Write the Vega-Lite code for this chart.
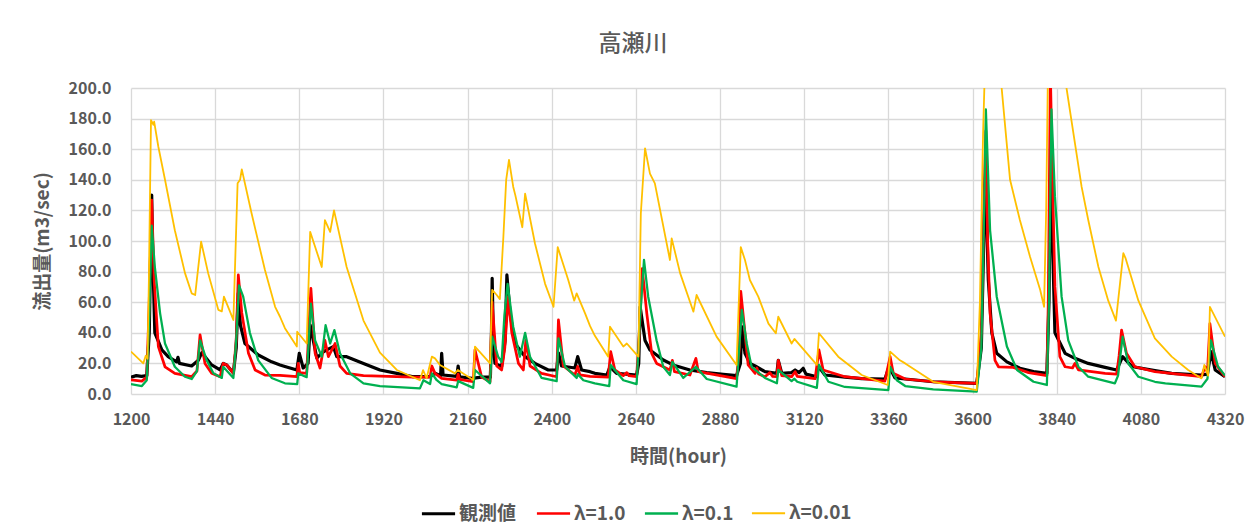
{
"$schema": "https://vega.github.io/schema/vega-lite/v6.json",
"width": 1094, "height": 306,
"autosize": {"type": "none"},
"padding": {"left": 131, "top": 88, "right": 28, "bottom": 137},
"background": "white",
"title": {"text": "高瀬川", "fontSize": 23, "font": "Noto Sans CJK JP", "fontWeight": 500, "color": "#595959", "anchor": "middle", "dx": -45, "offset": 24},
"config": {"view": {"stroke": null}, "font": "Noto Sans CJK JP"},
"data": {"values": [
{"s":"観測値","h":1200,"v":11},{"s":"観測値","h":1215,"v":12},{"s":"観測値","h":1230,"v":11.5},{"s":"観測値","h":1245,"v":12},{"s":"観測値","h":1252,"v":40},{"s":"観測値","h":1259,"v":130},{"s":"観測値","h":1262,"v":90},{"s":"観測値","h":1268,"v":40},{"s":"観測値","h":1288,"v":28.8},{"s":"観測値","h":1306,"v":24.4},{"s":"観測値","h":1330,"v":21},{"s":"観測値","h":1334,"v":24},{"s":"観測値","h":1338,"v":20},{"s":"観測値","h":1373,"v":18.3},{"s":"観測値","h":1392,"v":22},{"s":"観測値","h":1402,"v":27},{"s":"観測値","h":1430,"v":19},{"s":"観測値","h":1454,"v":15.7},{"s":"観測値","h":1463,"v":20},{"s":"観測値","h":1473,"v":19},{"s":"観測値","h":1492,"v":13.7},{"s":"観測値","h":1500,"v":30},{"s":"観測値","h":1506,"v":66},{"s":"観測値","h":1512,"v":45},{"s":"観測値","h":1525,"v":33},{"s":"観測値","h":1563,"v":25.5},{"s":"観測値","h":1601,"v":21},{"s":"観測値","h":1625,"v":19},{"s":"観測値","h":1639,"v":18},{"s":"観測値","h":1673,"v":15.7},{"s":"観測値","h":1680,"v":26.6},{"s":"観測値","h":1691,"v":17},{"s":"観測値","h":1705,"v":20},{"s":"観測値","h":1711,"v":45},{"s":"観測値","h":1730,"v":23.5},{"s":"観測値","h":1744,"v":26.8},{"s":"観測値","h":1758,"v":28.8},{"s":"観測値","h":1777,"v":31},{"s":"観測値","h":1787,"v":24.4},{"s":"観測値","h":1815,"v":24.4},{"s":"観測値","h":1863,"v":20},{"s":"観測値","h":1910,"v":15.7},{"s":"観測値","h":1958,"v":13.5},{"s":"観測値","h":2005,"v":11.3},{"s":"観測値","h":2053,"v":11.3},{"s":"観測値","h":2067,"v":13.5},{"s":"観測値","h":2083,"v":12},{"s":"観測値","h":2086,"v":26.6},{"s":"観測値","h":2090,"v":12.4},{"s":"観測値","h":2129,"v":11.5},{"s":"観測値","h":2133,"v":18.3},{"s":"観測値","h":2137,"v":11.3},{"s":"観測値","h":2172,"v":10.2},{"s":"観測値","h":2200,"v":11},{"s":"観測値","h":2225,"v":11},{"s":"観測値","h":2228,"v":40},{"s":"観測値","h":2230,"v":75.6},{"s":"観測値","h":2234,"v":30},{"s":"観測値","h":2238,"v":20},{"s":"観測値","h":2257,"v":18},{"s":"観測値","h":2267,"v":35},{"s":"観測値","h":2272,"v":77.8},{"s":"観測値","h":2281,"v":53},{"s":"観測値","h":2295,"v":33},{"s":"観測値","h":2324,"v":24.4},{"s":"観測値","h":2352,"v":20},{"s":"観測値","h":2390,"v":15.7},{"s":"観測値","h":2414,"v":15.7},{"s":"観測値","h":2419,"v":26.8},{"s":"観測値","h":2428,"v":18.3},{"s":"観測値","h":2466,"v":17},{"s":"観測値","h":2474,"v":24.4},{"s":"観測値","h":2485,"v":15.7},{"s":"観測値","h":2509,"v":14.6},{"s":"観測値","h":2523,"v":13.5},{"s":"観測値","h":2557,"v":12.4},{"s":"観測値","h":2566,"v":17.8},{"s":"観測値","h":2585,"v":13.5},{"s":"観測値","h":2642,"v":12.4},{"s":"観測値","h":2648,"v":20},{"s":"観測値","h":2652,"v":57},{"s":"観測値","h":2666,"v":35},{"s":"観測値","h":2680,"v":28.8},{"s":"観測値","h":2718,"v":22.2},{"s":"観測値","h":2746,"v":19},{"s":"観測値","h":2794,"v":15.7},{"s":"観測値","h":2842,"v":14},{"s":"観測値","h":2889,"v":12.8},{"s":"観測値","h":2927,"v":12},{"s":"観測値","h":2938,"v":20},{"s":"観測値","h":2942,"v":44},{"s":"観測値","h":2951,"v":26.6},{"s":"観測値","h":2965,"v":20},{"s":"観測値","h":2980,"v":18.3},{"s":"観測値","h":3008,"v":14.6},{"s":"観測値","h":3042,"v":13.5},{"s":"観測値","h":3046,"v":22},{"s":"観測値","h":3056,"v":13.5},{"s":"観測値","h":3084,"v":14},{"s":"観測値","h":3094,"v":15.7},{"s":"観測値","h":3105,"v":14},{"s":"観測値","h":3117,"v":16.8},{"s":"観測値","h":3125,"v":13},{"s":"観測値","h":3156,"v":11.3},{"s":"観測値","h":3160,"v":18.3},{"s":"観測値","h":3179,"v":12.4},{"s":"観測値","h":3236,"v":11},{"s":"観測値","h":3284,"v":10},{"s":"観測値","h":3350,"v":9.8},{"s":"観測値","h":3362,"v":17.8},{"s":"観測値","h":3379,"v":10.5},{"s":"観測値","h":3408,"v":9.8},{"s":"観測値","h":3488,"v":8},{"s":"観測値","h":3612,"v":7},{"s":"観測値","h":3625,"v":30},{"s":"観測値","h":3633,"v":110},{"s":"観測値","h":3638,"v":150},{"s":"観測値","h":3642,"v":100},{"s":"観測値","h":3645,"v":74.5},{"s":"観測値","h":3655,"v":40},{"s":"観測値","h":3669,"v":26.6},{"s":"観測値","h":3698,"v":21},{"s":"観測値","h":3735,"v":16.8},{"s":"観測値","h":3774,"v":14.6},{"s":"観測値","h":3812,"v":13.5},{"s":"観測値","h":3818,"v":60},{"s":"観測値","h":3824,"v":175},{"s":"観測値","h":3828,"v":100},{"s":"観測値","h":3835,"v":40},{"s":"観測値","h":3864,"v":26.6},{"s":"観測値","h":3892,"v":23.3},{"s":"観測値","h":3930,"v":20},{"s":"観測値","h":3978,"v":17.4},{"s":"観測値","h":4011,"v":15.7},{"s":"観測値","h":4028,"v":24.4},{"s":"観測値","h":4054,"v":18},{"s":"観測値","h":4120,"v":15.3},{"s":"観測値","h":4168,"v":13.5},{"s":"観測値","h":4253,"v":12.4},{"s":"観測値","h":4270,"v":13},{"s":"観測値","h":4280,"v":27.7},{"s":"観測値","h":4292,"v":15.7},{"s":"観測値","h":4320,"v":11.3},
{"s":"λ=1.0","h":1200,"v":9.2},{"s":"λ=1.0","h":1231,"v":8.4},{"s":"λ=1.0","h":1245,"v":11},{"s":"λ=1.0","h":1252,"v":60},{"s":"λ=1.0","h":1259,"v":126.8},{"s":"λ=1.0","h":1266,"v":74.5},{"s":"λ=1.0","h":1278,"v":31},{"s":"λ=1.0","h":1297,"v":17.8},{"s":"λ=1.0","h":1325,"v":13.5},{"s":"λ=1.0","h":1373,"v":11.3},{"s":"λ=1.0","h":1388,"v":15},{"s":"λ=1.0","h":1397,"v":38.6},{"s":"λ=1.0","h":1411,"v":20},{"s":"λ=1.0","h":1430,"v":13.5},{"s":"λ=1.0","h":1454,"v":11.3},{"s":"λ=1.0","h":1463,"v":20},{"s":"λ=1.0","h":1473,"v":19},{"s":"λ=1.0","h":1492,"v":13.5},{"s":"λ=1.0","h":1500,"v":35},{"s":"λ=1.0","h":1506,"v":77.8},{"s":"λ=1.0","h":1516,"v":53},{"s":"λ=1.0","h":1535,"v":26.6},{"s":"λ=1.0","h":1554,"v":15.7},{"s":"λ=1.0","h":1582,"v":12.4},{"s":"λ=1.0","h":1625,"v":12.2},{"s":"λ=1.0","h":1673,"v":11.3},{"s":"λ=1.0","h":1677,"v":20},{"s":"λ=1.0","h":1681,"v":14},{"s":"λ=1.0","h":1701,"v":13.5},{"s":"λ=1.0","h":1713,"v":69},{"s":"λ=1.0","h":1725,"v":26.8},{"s":"λ=1.0","h":1739,"v":17},{"s":"λ=1.0","h":1753,"v":35},{"s":"λ=1.0","h":1763,"v":24.4},{"s":"λ=1.0","h":1782,"v":33},{"s":"λ=1.0","h":1796,"v":18.3},{"s":"λ=1.0","h":1815,"v":13.5},{"s":"λ=1.0","h":1863,"v":12},{"s":"λ=1.0","h":2005,"v":11},{"s":"λ=1.0","h":2053,"v":11},{"s":"λ=1.0","h":2058,"v":18.3},{"s":"λ=1.0","h":2067,"v":13.5},{"s":"λ=1.0","h":2086,"v":10.2},{"s":"λ=1.0","h":2129,"v":9},{"s":"λ=1.0","h":2133,"v":13},{"s":"λ=1.0","h":2137,"v":9.5},{"s":"λ=1.0","h":2176,"v":8},{"s":"λ=1.0","h":2181,"v":28.8},{"s":"λ=1.0","h":2200,"v":11},{"s":"λ=1.0","h":2224,"v":8},{"s":"λ=1.0","h":2230,"v":60},{"s":"λ=1.0","h":2243,"v":18.3},{"s":"λ=1.0","h":2257,"v":15.7},{"s":"λ=1.0","h":2266,"v":30},{"s":"λ=1.0","h":2276,"v":63.6},{"s":"λ=1.0","h":2286,"v":40},{"s":"λ=1.0","h":2305,"v":20},{"s":"λ=1.0","h":2319,"v":15.7},{"s":"λ=1.0","h":2326,"v":35},{"s":"λ=1.0","h":2338,"v":18.3},{"s":"λ=1.0","h":2371,"v":13.5},{"s":"λ=1.0","h":2414,"v":11.3},{"s":"λ=1.0","h":2419,"v":48.4},{"s":"λ=1.0","h":2433,"v":18.3},{"s":"λ=1.0","h":2466,"v":12.4},{"s":"λ=1.0","h":2474,"v":18},{"s":"λ=1.0","h":2480,"v":12.5},{"s":"λ=1.0","h":2509,"v":11.5},{"s":"λ=1.0","h":2561,"v":11},{"s":"λ=1.0","h":2568,"v":27.7},{"s":"λ=1.0","h":2580,"v":15.7},{"s":"λ=1.0","h":2604,"v":12},{"s":"λ=1.0","h":2614,"v":14},{"s":"λ=1.0","h":2620,"v":12},{"s":"λ=1.0","h":2642,"v":11.3},{"s":"λ=1.0","h":2650,"v":40},{"s":"λ=1.0","h":2658,"v":82},{"s":"λ=1.0","h":2671,"v":52.7},{"s":"λ=1.0","h":2685,"v":26.6},{"s":"λ=1.0","h":2699,"v":20},{"s":"λ=1.0","h":2737,"v":15.7},{"s":"λ=1.0","h":2744,"v":22},{"s":"λ=1.0","h":2750,"v":14.6},{"s":"λ=1.0","h":2794,"v":12.4},{"s":"λ=1.0","h":2811,"v":23.3},{"s":"λ=1.0","h":2818,"v":14.6},{"s":"λ=1.0","h":2927,"v":10},{"s":"λ=1.0","h":2935,"v":30},{"s":"λ=1.0","h":2939,"v":67},{"s":"λ=1.0","h":2951,"v":40},{"s":"λ=1.0","h":2960,"v":19},{"s":"λ=1.0","h":2980,"v":13.5},{"s":"λ=1.0","h":2985,"v":17},{"s":"λ=1.0","h":2990,"v":13},{"s":"λ=1.0","h":3008,"v":11.3},{"s":"λ=1.0","h":3022,"v":14},{"s":"λ=1.0","h":3030,"v":11.5},{"s":"λ=1.0","h":3042,"v":11.3},{"s":"λ=1.0","h":3046,"v":22},{"s":"λ=1.0","h":3056,"v":12},{"s":"λ=1.0","h":3084,"v":11.3},{"s":"λ=1.0","h":3094,"v":14.6},{"s":"λ=1.0","h":3100,"v":11.5},{"s":"λ=1.0","h":3151,"v":10},{"s":"λ=1.0","h":3162,"v":28.8},{"s":"λ=1.0","h":3174,"v":15.7},{"s":"λ=1.0","h":3236,"v":11.3},{"s":"λ=1.0","h":3350,"v":8.4},{"s":"λ=1.0","h":3365,"v":24.4},{"s":"λ=1.0","h":3374,"v":13.5},{"s":"λ=1.0","h":3408,"v":9.8},{"s":"λ=1.0","h":3488,"v":8},{"s":"λ=1.0","h":3612,"v":7},{"s":"λ=1.0","h":3625,"v":40},{"s":"λ=1.0","h":3633,"v":130},{"s":"λ=1.0","h":3638,"v":172},{"s":"λ=1.0","h":3643,"v":100},{"s":"λ=1.0","h":3650,"v":52.7},{"s":"λ=1.0","h":3664,"v":22},{"s":"λ=1.0","h":3674,"v":17.8},{"s":"λ=1.0","h":3716,"v":17.4},{"s":"λ=1.0","h":3760,"v":14},{"s":"λ=1.0","h":3812,"v":12},{"s":"λ=1.0","h":3816,"v":60},{"s":"λ=1.0","h":3822,"v":210},{"s":"λ=1.0","h":3827,"v":150},{"s":"λ=1.0","h":3835,"v":70},{"s":"λ=1.0","h":3849,"v":24.4},{"s":"λ=1.0","h":3864,"v":17.8},{"s":"λ=1.0","h":3885,"v":17},{"s":"λ=1.0","h":3892,"v":20},{"s":"λ=1.0","h":3902,"v":15.7},{"s":"λ=1.0","h":3978,"v":13.5},{"s":"λ=1.0","h":4011,"v":13},{"s":"λ=1.0","h":4018,"v":25},{"s":"λ=1.0","h":4025,"v":41.8},{"s":"λ=1.0","h":4039,"v":26.6},{"s":"λ=1.0","h":4063,"v":17.8},{"s":"λ=1.0","h":4120,"v":14.6},{"s":"λ=1.0","h":4253,"v":11.3},{"s":"λ=1.0","h":4263,"v":17.8},{"s":"λ=1.0","h":4270,"v":14},{"s":"λ=1.0","h":4277,"v":46},{"s":"λ=1.0","h":4292,"v":20},{"s":"λ=1.0","h":4320,"v":11.3},
{"s":"λ=0.1","h":1200,"v":6.5},{"s":"λ=0.1","h":1231,"v":5.2},{"s":"λ=0.1","h":1245,"v":9},{"s":"λ=0.1","h":1252,"v":50},{"s":"λ=0.1","h":1259,"v":110},{"s":"λ=0.1","h":1268,"v":83},{"s":"λ=0.1","h":1283,"v":52.7},{"s":"λ=0.1","h":1297,"v":33},{"s":"λ=0.1","h":1325,"v":17.8},{"s":"λ=0.1","h":1354,"v":11.3},{"s":"λ=0.1","h":1373,"v":9.8},{"s":"λ=0.1","h":1388,"v":15},{"s":"λ=0.1","h":1397,"v":35},{"s":"λ=0.1","h":1416,"v":22},{"s":"λ=0.1","h":1435,"v":13.5},{"s":"λ=0.1","h":1459,"v":10.5},{"s":"λ=0.1","h":1463,"v":17.8},{"s":"λ=0.1","h":1492,"v":10.5},{"s":"λ=0.1","h":1500,"v":35},{"s":"λ=0.1","h":1508,"v":71},{"s":"λ=0.1","h":1520,"v":63.6},{"s":"λ=0.1","h":1539,"v":40},{"s":"λ=0.1","h":1563,"v":22},{"s":"λ=0.1","h":1601,"v":10.5},{"s":"λ=0.1","h":1639,"v":7},{"s":"λ=0.1","h":1674,"v":6.5},{"s":"λ=0.1","h":1677,"v":13.5},{"s":"λ=0.1","h":1701,"v":11},{"s":"λ=0.1","h":1713,"v":59},{"s":"λ=0.1","h":1725,"v":35},{"s":"λ=0.1","h":1744,"v":24.4},{"s":"λ=0.1","h":1755,"v":45},{"s":"λ=0.1","h":1768,"v":33},{"s":"λ=0.1","h":1780,"v":41.8},{"s":"λ=0.1","h":1796,"v":26.6},{"s":"λ=0.1","h":1825,"v":13.5},{"s":"λ=0.1","h":1863,"v":7},{"s":"λ=0.1","h":1910,"v":5.2},{"s":"λ=0.1","h":2024,"v":3.7},{"s":"λ=0.1","h":2034,"v":9},{"s":"λ=0.1","h":2053,"v":6.5},{"s":"λ=0.1","h":2058,"v":13.5},{"s":"λ=0.1","h":2072,"v":9},{"s":"λ=0.1","h":2086,"v":6.5},{"s":"λ=0.1","h":2129,"v":4.4},{"s":"λ=0.1","h":2133,"v":8.4},{"s":"λ=0.1","h":2176,"v":4},{"s":"λ=0.1","h":2181,"v":15.7},{"s":"λ=0.1","h":2224,"v":7},{"s":"λ=0.1","h":2230,"v":37.5},{"s":"λ=0.1","h":2247,"v":24.4},{"s":"λ=0.1","h":2257,"v":21},{"s":"λ=0.1","h":2265,"v":51.6},{"s":"λ=0.1","h":2274,"v":72},{"s":"λ=0.1","h":2290,"v":44},{"s":"λ=0.1","h":2309,"v":24.4},{"s":"λ=0.1","h":2324,"v":40},{"s":"λ=0.1","h":2338,"v":24.4},{"s":"λ=0.1","h":2371,"v":10.5},{"s":"λ=0.1","h":2414,"v":8.4},{"s":"λ=0.1","h":2419,"v":36.4},{"s":"λ=0.1","h":2438,"v":17.8},{"s":"λ=0.1","h":2471,"v":10.5},{"s":"λ=0.1","h":2474,"v":13},{"s":"λ=0.1","h":2490,"v":9},{"s":"λ=0.1","h":2523,"v":7},{"s":"λ=0.1","h":2564,"v":5.2},{"s":"λ=0.1","h":2568,"v":19},{"s":"λ=0.1","h":2604,"v":9},{"s":"λ=0.1","h":2642,"v":6.5},{"s":"λ=0.1","h":2652,"v":50},{"s":"λ=0.1","h":2663,"v":87.6},{"s":"λ=0.1","h":2675,"v":63.6},{"s":"λ=0.1","h":2699,"v":35},{"s":"λ=0.1","h":2718,"v":17.8},{"s":"λ=0.1","h":2737,"v":12.4},{"s":"λ=0.1","h":2744,"v":21},{"s":"λ=0.1","h":2775,"v":10.5},{"s":"λ=0.1","h":2811,"v":17.8},{"s":"λ=0.1","h":2842,"v":9.8},{"s":"λ=0.1","h":2927,"v":4.8},{"s":"λ=0.1","h":2942,"v":55},{"s":"λ=0.1","h":2956,"v":33},{"s":"λ=0.1","h":2970,"v":17.8},{"s":"λ=0.1","h":3008,"v":10.5},{"s":"λ=0.1","h":3042,"v":7},{"s":"λ=0.1","h":3046,"v":15.7},{"s":"λ=0.1","h":3084,"v":8.4},{"s":"λ=0.1","h":3092,"v":10},{"s":"λ=0.1","h":3100,"v":8},{"s":"λ=0.1","h":3156,"v":4},{"s":"λ=0.1","h":3162,"v":19},{"s":"λ=0.1","h":3189,"v":8},{"s":"λ=0.1","h":3236,"v":4.6},{"s":"λ=0.1","h":3360,"v":2.6},{"s":"λ=0.1","h":3365,"v":17.8},{"s":"λ=0.1","h":3384,"v":9},{"s":"λ=0.1","h":3408,"v":5.2},{"s":"λ=0.1","h":3488,"v":3},{"s":"λ=0.1","h":3612,"v":1.5},{"s":"λ=0.1","h":3625,"v":30},{"s":"λ=0.1","h":3633,"v":120},{"s":"λ=0.1","h":3638,"v":186},{"s":"λ=0.1","h":3650,"v":107},{"s":"λ=0.1","h":3669,"v":63.6},{"s":"λ=0.1","h":3698,"v":31},{"s":"λ=0.1","h":3727,"v":15.7},{"s":"λ=0.1","h":3774,"v":8},{"s":"λ=0.1","h":3812,"v":5.9},{"s":"λ=0.1","h":3818,"v":60},{"s":"λ=0.1","h":3825,"v":186},{"s":"λ=0.1","h":3835,"v":129},{"s":"λ=0.1","h":3854,"v":63.6},{"s":"λ=0.1","h":3873,"v":35},{"s":"λ=0.1","h":3902,"v":17.8},{"s":"λ=0.1","h":3930,"v":11.3},{"s":"λ=0.1","h":4006,"v":7},{"s":"λ=0.1","h":4015,"v":12},{"s":"λ=0.1","h":4028,"v":37.5},{"s":"λ=0.1","h":4044,"v":20},{"s":"λ=0.1","h":4073,"v":11.3},{"s":"λ=0.1","h":4120,"v":8},{"s":"λ=0.1","h":4150,"v":7},{"s":"λ=0.1","h":4253,"v":4.8},{"s":"λ=0.1","h":4270,"v":10},{"s":"λ=0.1","h":4280,"v":35},{"s":"λ=0.1","h":4300,"v":18},{"s":"λ=0.1","h":4320,"v":12},
{"s":"λ=0.01","h":1200,"v":27.7},{"s":"λ=0.01","h":1235,"v":20},{"s":"λ=0.01","h":1242,"v":25},{"s":"λ=0.01","h":1247,"v":23},{"s":"λ=0.01","h":1251,"v":74.5},{"s":"λ=0.01","h":1257,"v":179},{"s":"λ=0.01","h":1264,"v":176},{"s":"λ=0.01","h":1266,"v":178},{"s":"λ=0.01","h":1278,"v":161.6},{"s":"λ=0.01","h":1297,"v":140},{"s":"λ=0.01","h":1325,"v":107},{"s":"λ=0.01","h":1354,"v":79},{"s":"λ=0.01","h":1373,"v":65.8},{"s":"λ=0.01","h":1383,"v":64.7},{"s":"λ=0.01","h":1400,"v":99.6},{"s":"λ=0.01","h":1420,"v":79},{"s":"λ=0.01","h":1449,"v":55},{"s":"λ=0.01","h":1459,"v":54},{"s":"λ=0.01","h":1465,"v":63.6},{"s":"λ=0.01","h":1492,"v":48.4},{"s":"λ=0.01","h":1504,"v":137.7},{"s":"λ=0.01","h":1511,"v":140},{"s":"λ=0.01","h":1516,"v":146.8},{"s":"λ=0.01","h":1544,"v":118},{"s":"λ=0.01","h":1582,"v":81},{"s":"λ=0.01","h":1611,"v":57},{"s":"λ=0.01","h":1625,"v":50.5},{"s":"λ=0.01","h":1639,"v":43},{"s":"λ=0.01","h":1673,"v":31},{"s":"λ=0.01","h":1674,"v":40.7},{"s":"λ=0.01","h":1701,"v":33},{"s":"λ=0.01","h":1711,"v":106},{"s":"λ=0.01","h":1744,"v":83},{"s":"λ=0.01","h":1753,"v":113.7},{"s":"λ=0.01","h":1768,"v":106},{"s":"λ=0.01","h":1779,"v":120},{"s":"λ=0.01","h":1815,"v":83},{"s":"λ=0.01","h":1863,"v":48},{"s":"λ=0.01","h":1910,"v":27},{"s":"λ=0.01","h":1958,"v":15.7},{"s":"λ=0.01","h":2024,"v":9},{"s":"λ=0.01","h":2033,"v":15.6},{"s":"λ=0.01","h":2043,"v":10.3},{"s":"λ=0.01","h":2058,"v":24.4},{"s":"λ=0.01","h":2067,"v":23.3},{"s":"λ=0.01","h":2081,"v":19},{"s":"λ=0.01","h":2124,"v":13.5},{"s":"λ=0.01","h":2132,"v":15.7},{"s":"λ=0.01","h":2176,"v":9.2},{"s":"λ=0.01","h":2181,"v":31},{"s":"λ=0.01","h":2224,"v":20},{"s":"λ=0.01","h":2230,"v":68},{"s":"λ=0.01","h":2243,"v":64.7},{"s":"λ=0.01","h":2252,"v":62},{"s":"λ=0.01","h":2262,"v":102.8},{"s":"λ=0.01","h":2270,"v":140},{"s":"λ=0.01","h":2278,"v":153},{"s":"λ=0.01","h":2290,"v":135.5},{"s":"λ=0.01","h":2296,"v":130},{"s":"λ=0.01","h":2316,"v":109},{"s":"λ=0.01","h":2324,"v":131},{"s":"λ=0.01","h":2352,"v":98.5},{"s":"λ=0.01","h":2381,"v":72},{"s":"λ=0.01","h":2405,"v":57},{"s":"λ=0.01","h":2417,"v":96},{"s":"λ=0.01","h":2447,"v":74.5},{"s":"λ=0.01","h":2464,"v":61},{"s":"λ=0.01","h":2471,"v":65.8},{"s":"λ=0.01","h":2495,"v":52.7},{"s":"λ=0.01","h":2509,"v":44.5},{"s":"λ=0.01","h":2523,"v":38},{"s":"λ=0.01","h":2561,"v":24.4},{"s":"λ=0.01","h":2566,"v":44},{"s":"λ=0.01","h":2604,"v":31},{"s":"λ=0.01","h":2614,"v":33},{"s":"λ=0.01","h":2647,"v":24.4},{"s":"λ=0.01","h":2654,"v":118},{"s":"λ=0.01","h":2666,"v":160.6},{"s":"λ=0.01","h":2680,"v":144},{"s":"λ=0.01","h":2694,"v":137.7},{"s":"λ=0.01","h":2737,"v":87.6},{"s":"λ=0.01","h":2742,"v":101.7},{"s":"λ=0.01","h":2766,"v":79},{"s":"λ=0.01","h":2804,"v":53.8},{"s":"λ=0.01","h":2813,"v":64.7},{"s":"λ=0.01","h":2870,"v":37.5},{"s":"λ=0.01","h":2927,"v":19},{"s":"λ=0.01","h":2939,"v":96},{"s":"λ=0.01","h":2951,"v":87.6},{"s":"λ=0.01","h":2965,"v":74.5},{"s":"λ=0.01","h":2989,"v":63.6},{"s":"λ=0.01","h":3018,"v":46},{"s":"λ=0.01","h":3039,"v":39.7},{"s":"λ=0.01","h":3046,"v":50.5},{"s":"λ=0.01","h":3084,"v":33},{"s":"λ=0.01","h":3092,"v":36},{"s":"λ=0.01","h":3156,"v":19},{"s":"λ=0.01","h":3162,"v":39.7},{"s":"λ=0.01","h":3217,"v":24.4},{"s":"λ=0.01","h":3284,"v":12.4},{"s":"λ=0.01","h":3358,"v":5.9},{"s":"λ=0.01","h":3365,"v":27.7},{"s":"λ=0.01","h":3393,"v":22},{"s":"λ=0.01","h":3408,"v":20},{"s":"λ=0.01","h":3488,"v":8},{"s":"λ=0.01","h":3612,"v":2.6},{"s":"λ=0.01","h":3621,"v":60},{"s":"λ=0.01","h":3630,"v":170},{"s":"λ=0.01","h":3638,"v":235},{"s":"λ=0.01","h":3648,"v":250},{"s":"λ=0.01","h":3664,"v":235},{"s":"λ=0.01","h":3683,"v":200},{"s":"λ=0.01","h":3707,"v":140},{"s":"λ=0.01","h":3735,"v":113.7},{"s":"λ=0.01","h":3764,"v":89.7},{"s":"λ=0.01","h":3793,"v":68},{"s":"λ=0.01","h":3804,"v":57},{"s":"λ=0.01","h":3810,"v":120},{"s":"λ=0.01","h":3815,"v":210},{"s":"λ=0.01","h":3821,"v":270},{"s":"λ=0.01","h":3830,"v":285},{"s":"λ=0.01","h":3844,"v":260},{"s":"λ=0.01","h":3868,"v":200},{"s":"λ=0.01","h":3892,"v":164},{"s":"λ=0.01","h":3911,"v":135.5},{"s":"λ=0.01","h":3930,"v":113.7},{"s":"λ=0.01","h":3959,"v":83},{"s":"λ=0.01","h":3987,"v":61},{"s":"λ=0.01","h":4009,"v":48},{"s":"λ=0.01","h":4030,"v":92},{"s":"λ=0.01","h":4036,"v":89},{"s":"λ=0.01","h":4073,"v":61},{"s":"λ=0.01","h":4120,"v":36.4},{"s":"λ=0.01","h":4168,"v":24.4},{"s":"λ=0.01","h":4215,"v":15.7},{"s":"λ=0.01","h":4253,"v":10.2},{"s":"λ=0.01","h":4261,"v":19},{"s":"λ=0.01","h":4272,"v":12},{"s":"λ=0.01","h":4277,"v":57},{"s":"λ=0.01","h":4320,"v":37.5}
]},
"mark": {"type": "line", "clip": true, "strokeJoin": "round"},
"encoding": {
"x": {"field": "h", "type": "quantitative",
 "scale": {"domain": [1200, 4320], "nice": false, "zero": false},
 "axis": {"values": [1200,1440,1680,1920,2160,2400,2640,2880,3120,3360,3600,3840,4080,4320], "format": "d", "title": "時間(hour)", "grid": true, "gridColor": "#d9d9d9", "gridWidth": 1.3, "domain": false, "ticks": false, "labelFontSize": 16, "labelFontWeight": "bold", "labelColor": "#595959", "labelPadding": 17, "labelFlush": false, "titleFontSize": 19, "titleFontWeight": "bold", "titleColor": "#595959", "titlePadding": 20}},
"y": {"field": "v", "type": "quantitative",
 "scale": {"domain": [0, 200], "nice": false},
 "axis": {"values": [0,20,40,60,80,100,120,140,160,180,200], "format": ".1f", "title": "流出量(m3/sec)", "grid": true, "gridColor": "#d9d9d9", "gridWidth": 1.3, "domain": false, "ticks": false, "labelFontSize": 16, "labelFontWeight": "bold", "labelColor": "#595959", "labelPadding": 20, "titleFontSize": 19, "titleFontWeight": "bold", "titleColor": "#595959", "titlePadding": 16}},
"color": {"field": "s", "type": "nominal",
 "scale": {"domain": ["観測値","λ=1.0","λ=0.1","λ=0.01"], "range": ["#000000","#FF0000","#00B050","#FFC000"]},
 "legend": {"orient": "none", "legendX": 289, "legendY": 407, "direction": "horizontal", "columns": 4, "title": null, "symbolType": "stroke", "symbolSize": 1100, "symbolStrokeWidth": 2.5, "labelFontSize": 19, "labelFontWeight": "bold", "labelColor": "#595959", "columnPadding": 14, "labelOffset": 2, "padding": 0}},
"strokeWidth": {"field": "s", "type": "ordinal",
 "scale": {"domain": ["観測値","λ=1.0","λ=0.1","λ=0.01"], "range": [3.2, 1.8, 1.8, 1.8]},
 "legend": null}
}
}
